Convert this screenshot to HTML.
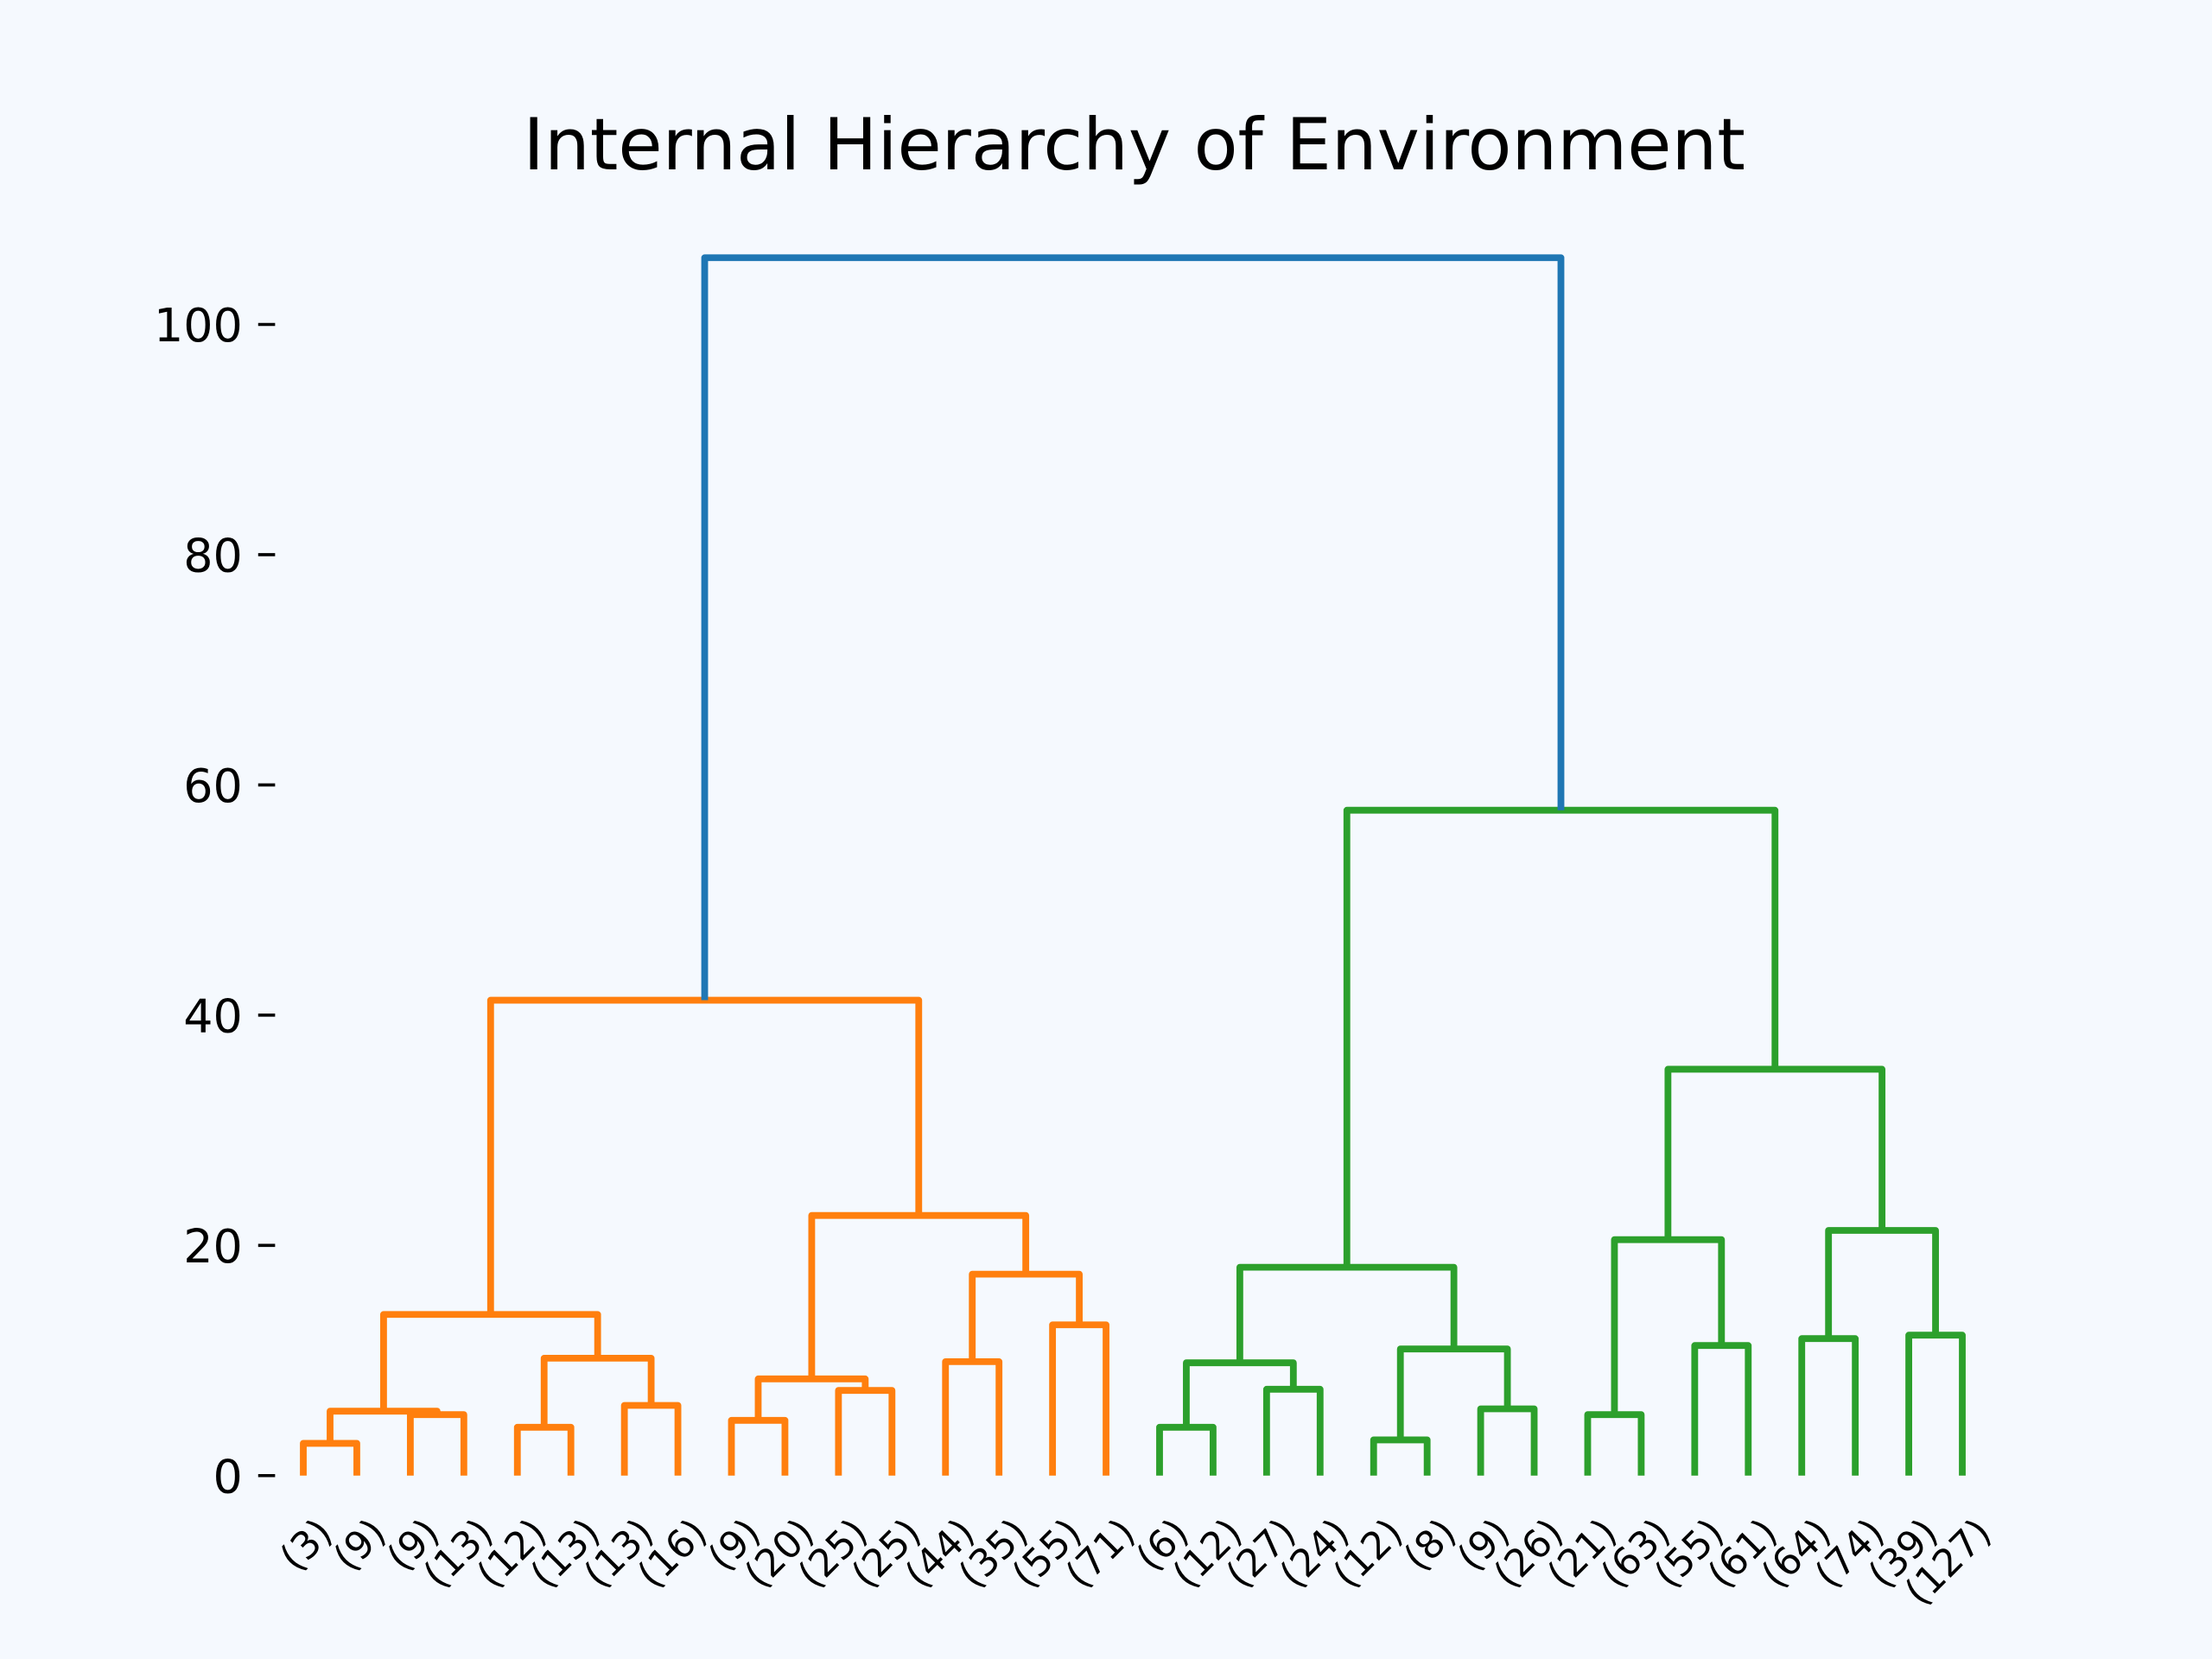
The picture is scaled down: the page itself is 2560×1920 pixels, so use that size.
<!DOCTYPE html>
<html><head><meta charset="utf-8"><style>
html,body{margin:0;padding:0;background:#f5f9fe;}
svg{display:block;font-family:"DejaVu Sans","Liberation Sans",sans-serif;}
</style></head><body>
<svg id="chart" width="2560" height="1920" viewBox="0 0 1568 1176" xmlns="http://www.w3.org/2000/svg">
<rect x="0" y="0" width="1568" height="1176" fill="#f5f9fe"/>
<text x="804" y="120" text-anchor="middle" font-size="51" fill="#000">Internal Hierarchy of Environment</text>
<g id="yaxis"></g>
<g id="links"></g>
<g id="leaves"></g>
</svg>
<script>
const leafLabels = ["(3)","(9)","(9)","(13)","(12)","(13)","(13)","(16)","(9)","(20)","(25)","(25)","(44)","(35)","(55)","(71)","(6)","(12)","(27)","(24)","(12)","(8)","(9)","(26)","(21)","(63)","(55)","(61)","(64)","(74)","(39)","(127)"];
const mergeHeight= [2.8,5.3,5.6,4.2,6.1,10.2,14.0,4.8,7.4,8.4,9.9,13.1,17.5,22.6,41.3,4.2,7.5,9.8,3.1,5.8,11.0,18.1,5.3,11.3,20.5,11.9,12.2,21.3,35.3,57.8,105.8];
const mergeColor = ["o","o","o","o","o","o","o","o","o","o","o","o","o","o","o","g","g","g","g","g","g","g","g","g","g","g","g","g","g","g","b"];
const yTicks = [0,20,40,60,80,100];
// child ids: 0-31 leaves, 32+ clusters in merge order
const fixedLeft  = [0,2,32,4,6,35,34,8,10,39,12,14,42,41,38,16,18,47,20,22,50,49,24,26,54,28,30,57,56,53,46];
const fixedRight = [1,3,33,5,7,36,37,9,11,40,13,15,43,44,45,17,19,48,21,23,51,52,25,27,55,29,31,58,59,60,61];

const NS="http://www.w3.org/2000/svg";
const colors={o:"#ff7f0e",g:"#2ca02c",b:"#1f77b4"};
function xScale(i){return 215+i*(1391-215)/(leafLabels.length-1);}
function yScale(v){return 1046-v*(1046-230)/100;}

const yaxis=document.getElementById('yaxis');
yTicks.forEach(t=>{
  const l=document.createElementNS(NS,'line');
  l.setAttribute('x1',183);l.setAttribute('x2',195);
  l.setAttribute('y1',yScale(t));l.setAttribute('y2',yScale(t));
  l.setAttribute('stroke','#000');l.setAttribute('stroke-width','2.2');
  
  
  yaxis.appendChild(l);
  const tx=document.createElementNS(NS,'text');
  tx.setAttribute('x',172);tx.setAttribute('y',yScale(t)+12);
  tx.setAttribute('text-anchor','end');tx.setAttribute('font-size','33');
  tx.textContent=t;
  
  
  yaxis.appendChild(tx);
});

const nodeX=[],nodeY=[];
for(let i=0;i<leafLabels.length;i++){nodeX.push(xScale(i));nodeY.push(yScale(0));}
const links=document.getElementById('links');
for(let k=0;k<mergeHeight.length;k++){
  const a=fixedLeft[k],b=fixedRight[k];
  const yh=yScale(mergeHeight[k]);
  const p=document.createElementNS(NS,'path');
  p.setAttribute('d',`M${nodeX[a]},${nodeY[a]} L${nodeX[a]},${yh} L${nodeX[b]},${yh} L${nodeX[b]},${nodeY[b]}`);
  p.setAttribute('fill','none');p.setAttribute('stroke',colors[mergeColor[k]]);
  p.setAttribute('stroke-width','4.8');p.setAttribute('stroke-linejoin','round');
  
  
  links.appendChild(p);
  nodeX.push((nodeX[a]+nodeX[b])/2);nodeY.push(yh);
}

const leaves=document.getElementById('leaves');
leafLabels.forEach((s,i)=>{
  const x=xScale(i)+22,y=1088;
  const t=document.createElementNS(NS,'text');
  t.setAttribute('x',x);t.setAttribute('y',y);
  t.setAttribute('text-anchor','end');t.setAttribute('font-size','27');
  t.setAttribute('transform',`rotate(-45 ${x} ${y})`);
  t.textContent=s;
  
  
  leaves.appendChild(t);
});
</script>
</body></html>
